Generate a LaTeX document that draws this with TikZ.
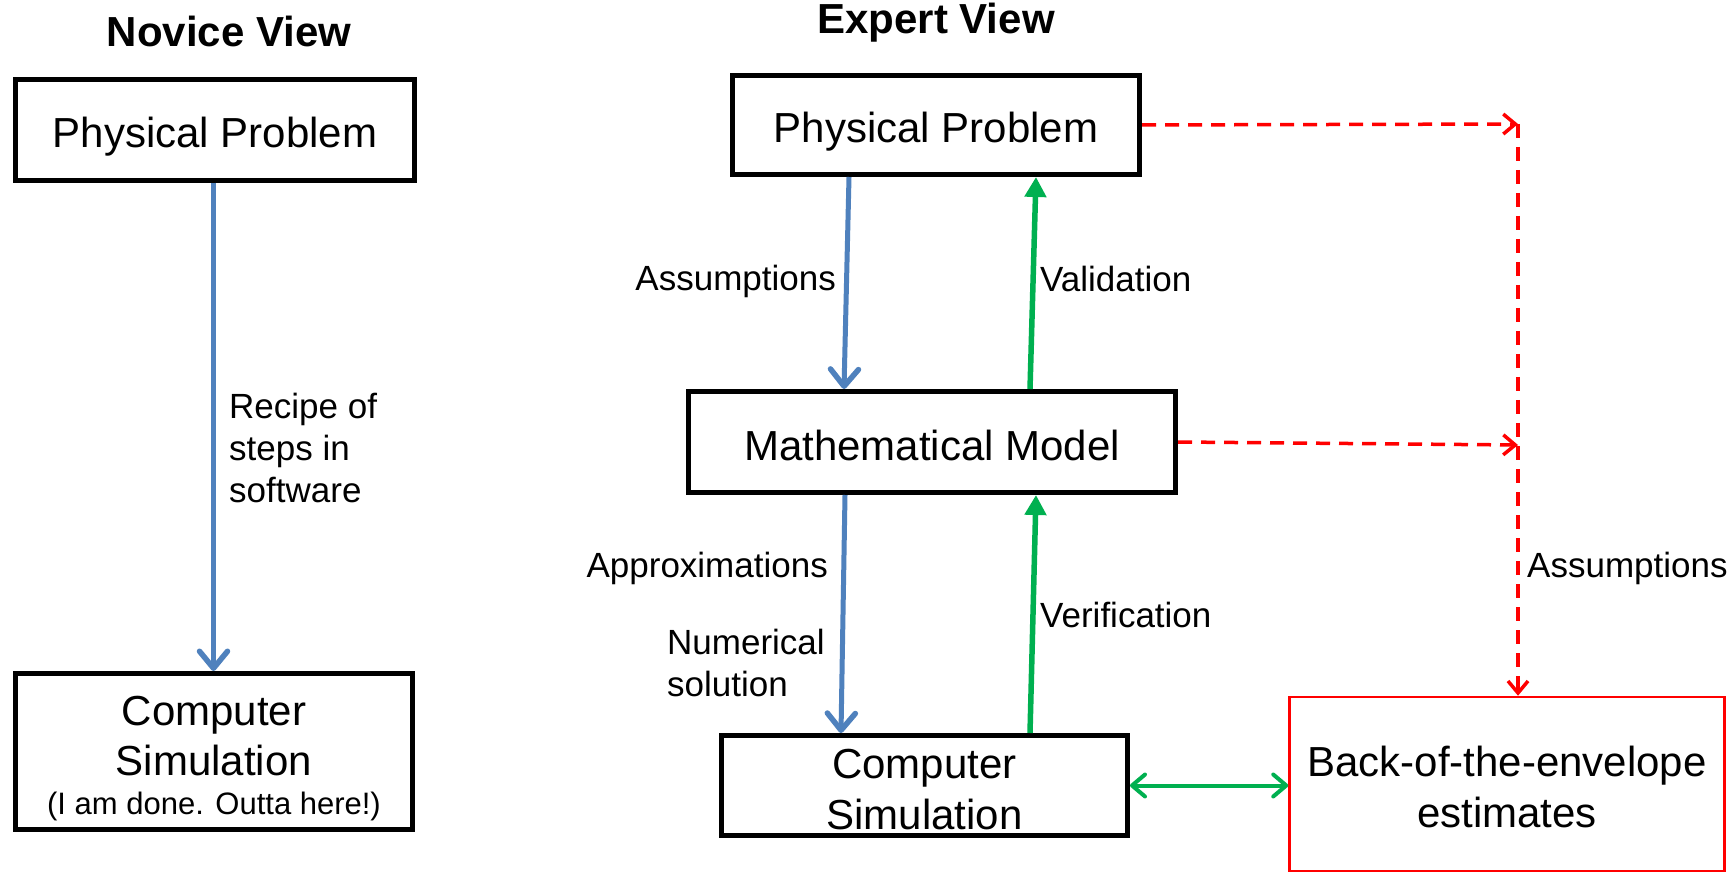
\documentclass[tikz,border=0pt]{standalone}
\usepackage{fontspec}
\setmainfont{Liberation Sans}
\usetikzlibrary{arrows.meta}
\definecolor{bblue}{RGB}{79,129,189}
\definecolor{ggreen}{RGB}{0,176,80}
\definecolor{rred}{RGB}{255,0,0}
\begin{document}
\begin{tikzpicture}[x=1pt,y=-1pt,
  box/.style={draw=black, line width=5pt, inner sep=0pt, align=center,
    font=\fontsize{42}{51}\selectfont, text height=36pt, text depth=0pt},
  box2/.style={box, text height=87pt, text depth=0pt},
  redbox/.style={draw=rred, line width=2.5pt, inner sep=0pt, align=center,
    font=\fontsize{42}{51}\selectfont, text height=87pt, text depth=0pt},
  boxtext/.style={inner sep=0pt, anchor=base, font=\fontsize{42}{51}\selectfont},
  smalltext/.style={inner sep=0pt, anchor=base, font=\fontsize{31}{37}\selectfont},
  title/.style={inner sep=0pt, font=\bfseries\fontsize{42}{50}\selectfont},
  lbl/.style={inner sep=0pt, font=\fontsize{35}{42}\selectfont},
  bluearr/.style={draw=bblue, line width=5pt,
    -{Straight Barb[length=17pt,width=28pt,line width=5.5pt,round]}},
  greenarr/.style={draw=ggreen, line width=5.5pt,
    -{Triangle[length=20pt,width=21pt]}},
  greendbl/.style={draw=ggreen, line width=4pt,
    {Straight Barb[length=13pt,width=22pt,line width=4pt,round]}-{Straight Barb[length=13pt,width=22pt,line width=4pt,round]}},
  reddash/.style={draw=rred, line width=3.5pt, dash pattern=on 14pt off 9pt},
  redtip/.style={-{Straight Barb[length=12pt,width=20pt,line width=3.5pt]}}
]
\fill[white] (0,0) rectangle (1735,874);
\useasboundingbox (0,0) rectangle (1735,874);

% ---------- Novice view ----------
\node[title] (nt) at (229,31) {Novice View};
\node[box, minimum width=399pt, minimum height=101pt] (npp) at (215,130) {Physical Problem};
\node[box, minimum width=397pt, minimum height=156pt] (ncs) at (214,751.5) {};
\node[boxtext] (ncs1) at (214,725) {Computer};
\node[boxtext] (ncs2) at (214,775) {Simulation};
\node[smalltext] (ncs3) at (214,814) {(I am done. Outta here!)};
\draw[bluearr] ([xshift=-1.5pt]npp.south) -- ([xshift=-0.5pt]ncs.north);
\node[lbl, anchor=west, align=left] (nrec) at (229,448) {Recipe of\\steps in\\software};

% ---------- Expert view ----------
\node[title] (et) at (936,23) {Expert View};
\node[box, minimum width=407pt, minimum height=99pt] (epp) at (936,125) {Physical Problem};
\node[box, minimum width=487pt, minimum height=101pt] (emm) at (932,442) {Mathematical Model};
\node[box2, minimum width=406pt, minimum height=100pt] (ecs) at (924.5,785.5) {Computer\\Simulation};
\node[redbox, minimum width=435pt, minimum height=174pt] (bote) at (1507,784) {Back-of-the-envelope\\estimates};

\draw[bluearr] ([xshift=-87pt]epp.south) -- ([xshift=-88pt]emm.north);
\draw[greenarr] ([xshift=98pt]emm.north) -- ([xshift=100pt]epp.south);
\draw[bluearr] ([xshift=-87pt]emm.south) -- ([xshift=-83.5pt]ecs.north);
\draw[greenarr] ([xshift=105.5pt]ecs.north) -- ([xshift=104pt]emm.south);
\draw[greendbl] (ecs.east) -- (ecs.east -| bote.west);

\coordinate (rtop) at (1518,124);
\coordinate (rmid) at (1518,445);
\draw[reddash, redtip] (epp.east) -- (rtop);
\draw[reddash, redtip] (emm.east) -- (rmid);
\draw[reddash, redtip] (rtop) -- (rtop |- bote.north);

\node[lbl, anchor=east] (la) at (836,281) {Assumptions};
\node[lbl, anchor=west] (lv) at (1040,279) {Validation};
\node[lbl, anchor=east] (lap) at (828,568) {Approximations};
\node[lbl, anchor=west, align=left] (lns) at (667,663) {Numerical\\solution};
\node[lbl, anchor=west] (lve) at (1040,615) {Verification};
\node[lbl, anchor=west] (lra) at (1527,568) {Assumptions};
\end{tikzpicture}
\end{document}
